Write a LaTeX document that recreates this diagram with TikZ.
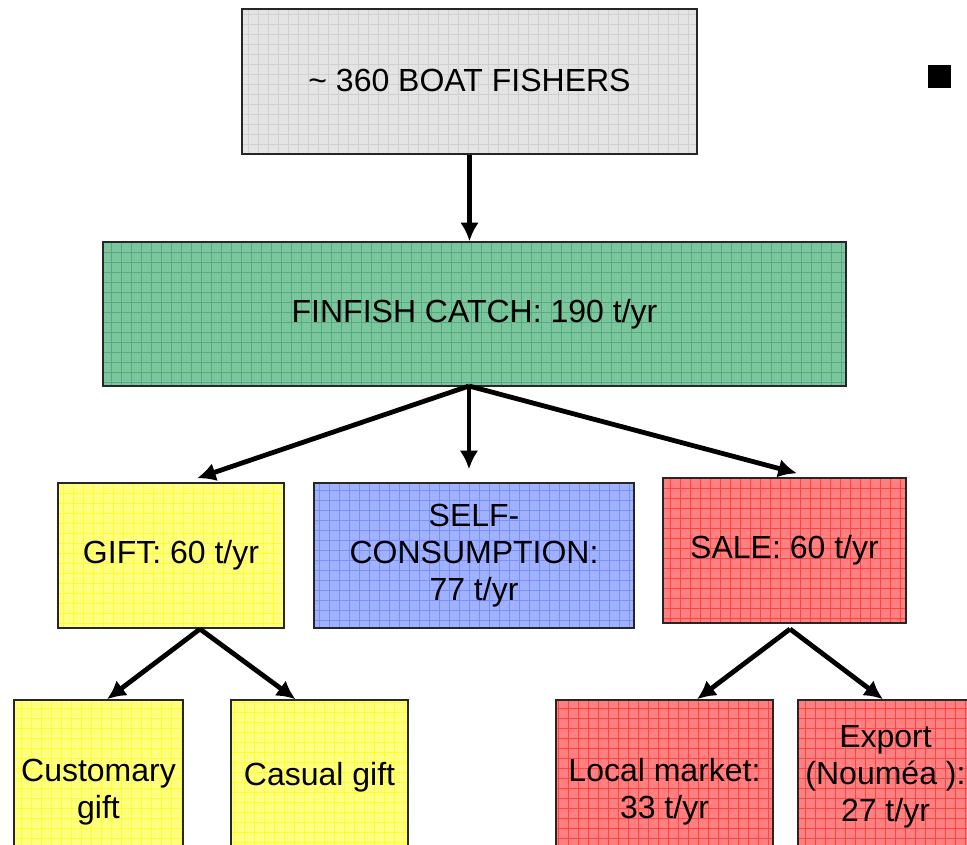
\documentclass[tikz,border=0pt]{standalone}
\usepackage{fontspec}
\setmainfont{Liberation Sans}
\usetikzlibrary{arrows.meta}
\usetikzlibrary{calc}
\definecolor{fishgray}{HTML}{E4E4E4}
\definecolor{fishgrid}{HTML}{D0D0D0}
\definecolor{catchgreen}{HTML}{7CC69E}
\definecolor{catchgrid}{HTML}{55AB80}
\definecolor{giftyellow}{HTML}{FFFF80}
\definecolor{giftgrid}{HTML}{FFFF30}
\definecolor{selfblue}{HTML}{A0B2FF}
\definecolor{selfgrid}{HTML}{7890FF}
\definecolor{salered}{HTML}{FF8080}
\definecolor{salegrid}{HTML}{FF4444}

\begin{document}
\begin{tikzpicture}[x=0.75pt,y=-0.75pt]
		\tikzset{box/.style={draw=black!85,line width=1.1pt,inner sep=0pt,align=center,font=\fontsize{24}{27.75}\selectfont},
			mesh/.style 2 args={fill=#1,path picture={\draw[#2,line width=0.55pt,step=7.5pt] (path picture bounding box.south west) grid (path picture bounding box.north east);}},
			flow/.style={-{Latex[length=14pt,width=14pt]},line width=3.6pt}};
		\useasboundingbox (0,0) rectangle (967,844);
		\clip (0,0) rectangle (967,844);
		\node[box,mesh={fishgray}{fishgrid},minimum width=341.25pt,minimum height=108.75pt] (fishers) at (469.5,81.5) {\raisebox{2pt}{\textasciitilde\ 360 BOAT FISHERS}};
		\node[box,mesh={catchgreen}{catchgrid},minimum width=557.25pt,minimum height=108pt] (catch) at (474.5,314) {FINFISH CATCH: 190 t/yr};
		\node[box,mesh={giftyellow}{giftgrid},minimum width=169.5pt,minimum height=108.75pt] (gift) at (171,555.5) {GIFT: 60 t/yr};
		\node[box,mesh={selfblue}{selfgrid},minimum width=240pt,minimum height=108.75pt] (selfc) at (474,555.5) {SELF-\\CONSUMPTION:\\77 t/yr};
		\node[box,mesh={salered}{salegrid},minimum width=182.25pt,minimum height=108.75pt] (sale) at (784.5,550.5) {SALE: 60 t/yr};
		\node[box,mesh={giftyellow}{giftgrid},minimum width=126.75pt,minimum height=138pt] (customary) at (98.5,792) {Customary\\gift};
		\node[box,mesh={giftyellow}{giftgrid},minimum width=132.75pt,minimum height=138pt] (casual) at (319.5,792) {Casual gift\\~};
		\node[box,mesh={salered}{salegrid},minimum width=162.75pt,minimum height=138pt] (local) at (664.5,792) {Local market:\\33 t/yr};
		\node[box,mesh={salered}{salegrid},minimum width=131.25pt,minimum height=138pt] (export) at (885.5,792) {Export\\(Nouméa ):\\27 t/yr\\~};
		\fill[black] (928,65) rectangle (951,88);
		\coordinate (catchsplit) at (469,386);
		\coordinate (giftsplit) at (200,629);
		\coordinate (salesplit) at (790,629);
		\draw[flow] (fishers.south) -- (fishers.south |- catch.north);
		\draw[flow] (catchsplit) -- ($(gift.north)+(26,-4)$);
		\draw[flow] (catchsplit) -- ($(selfc.north)+(-5,-13)$);
		\draw[flow] (catchsplit) -- ($(sale.north)+(12.5,-4)$);
		\draw[flow] (giftsplit) -- ($(customary.north)+(8.5,0)$);
		\draw[flow] (giftsplit) -- ($(casual.north)+(-24,0)$);
		\draw[flow] (salesplit) -- ($(local.north)+(32.5,0)$);
		\draw[flow] (salesplit) -- ($(export.north)+(-2.5,0)$);
	\end{tikzpicture}
\end{document}
